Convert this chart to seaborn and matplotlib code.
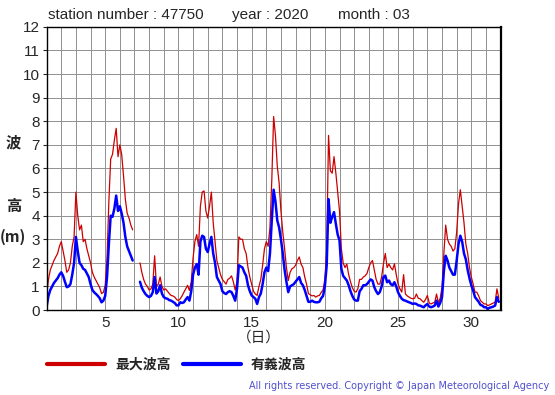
import matplotlib
matplotlib.use('Agg')
import matplotlib.pyplot as plt
from matplotlib.lines import Line2D
import seaborn as sns
import numpy as np
import pandas as pd

# 3-hourly readings, March 2020 (day 1 00h .. day 31 21h)
max_wave = [
    0.6, 1.3, 1.7, 1.9, 2.1, 2.25, 2.4, 2.7,        # 1
    2.9, 2.5, 2.1, 1.6, 1.7, 2.0, 2.7, 3.1,         # 2
    5.0, 4.0, 3.4, 3.6, 2.9, 3.0, 2.6, 2.3,         # 3
    2.0, 1.6, 1.4, 1.25, 1.1, 0.95, 0.7, 0.75,      # 4
    1.05, 2.2, 4.6, 6.4, 6.6, 7.2, 7.7, 6.5,        # 5
    7.0, 6.6, 5.7, 4.7, 4.1, 3.9, 3.6, 3.4,         # 6
    np.nan, np.nan, np.nan, 2.0, 1.6, 1.3, 1.1, 1.0,  # 7
    0.85, 0.9, 1.1, 2.3, 1.0, 1.1, 1.4, 1.0,        # 8
    0.85, 0.9, 0.8, 0.7, 0.62, 0.6, 0.55, 0.45,     # 9
    0.4, 0.48, 0.6, 0.76, 0.9, 1.05, 0.83, 1.2,     # 10
    2.2, 2.9, 3.2, 2.7, 4.4, 5.0, 5.05, 4.2,        # 11
    3.9, 4.4, 5.0, 3.7, 2.9, 2.1, 1.8, 1.5,         # 12
    1.3, 1.2, 1.1, 1.3, 1.35, 1.45, 1.2, 0.85,      # 13
    1.2, 3.1, 3.0, 3.0, 2.6, 2.4, 1.8, 1.4,         # 14
    1.1, 0.8, 0.68, 0.62, 1.0, 1.3, 1.9, 2.6,       # 15
    2.9, 2.7, 3.5, 5.5, 8.2, 7.4, 6.1, 5.4,         # 16
    4.2, 3.3, 2.6, 1.8, 1.25, 1.6, 1.75, 1.8,       # 17
    1.9, 2.1, 2.25, 1.95, 1.8, 1.4, 1.1, 0.7,       # 18
    0.65, 0.6, 0.62, 0.55, 0.6, 0.62, 0.75, 0.85,   # 19
    1.3, 2.5, 7.4, 5.9, 5.8, 6.5, 5.8, 5.0,         # 20
    4.2, 2.6, 2.0, 1.8, 1.95, 1.5, 1.2, 0.95,       # 21
    0.8, 0.76, 0.9, 1.3, 1.3, 1.4, 1.45, 1.55,      # 22
    1.8, 2.0, 2.1, 1.7, 1.3, 1.1, 1.1, 1.4,         # 23
    1.96, 2.4, 1.8, 1.95, 1.8, 1.7, 1.96, 1.5,      # 24
    1.1, 0.9, 0.76, 1.5, 0.68, 0.6, 0.55, 0.5,      # 25
    0.48, 0.5, 0.68, 0.5, 0.48, 0.4, 0.33, 0.45,    # 26
    0.62, 0.3, 0.26, 0.3, 0.33, 0.68, 0.3, 0.5,     # 27
    0.97, 2.4, 3.6, 3.0, 2.8, 2.7, 2.5, 2.6,        # 28
    3.3, 4.5, 5.1, 4.4, 3.7, 2.8, 2.4, 1.8,         # 29
    1.4, 1.1, 0.76, 0.76, 0.6, 0.4, 0.33, 0.26,     # 30
    0.26, 0.19, 0.22, 0.26, 0.3, 0.33, 0.9, 0.5,    # 31
]
sig_wave = [
    0.15, 0.6, 0.85, 1.0, 1.15, 1.25, 1.35, 1.5,
    1.6, 1.45, 1.2, 0.97, 1.0, 1.1, 1.5, 2.0,
    3.1, 2.5, 2.0, 1.9, 1.75, 1.7, 1.55, 1.4,
    1.1, 0.85, 0.75, 0.68, 0.6, 0.5, 0.33, 0.4,
    0.6, 1.4, 2.8, 4.0, 3.95, 4.3, 4.85, 4.2,
    4.4, 4.1, 3.7, 3.1, 2.7, 2.5, 2.3, 2.1,
    np.nan, np.nan, np.nan, 1.2, 0.95, 0.8, 0.68, 0.6,
    0.55, 0.6, 0.76, 1.4, 0.7, 0.8, 1.05, 0.7,
    0.55, 0.5, 0.48, 0.42, 0.4, 0.35, 0.3, 0.2,
    0.2, 0.33, 0.3, 0.33, 0.45, 0.55, 0.4, 0.8,
    1.5, 1.8, 1.95, 1.5, 2.9, 3.15, 3.1, 2.6,
    2.46, 2.8, 3.1, 2.4, 2.0, 1.4, 1.25, 1.1,
    0.8, 0.72, 0.68, 0.76, 0.8, 0.76, 0.6, 0.4,
    0.9, 1.9, 1.85, 1.8, 1.6, 1.45, 1.05, 0.8,
    0.62, 0.55, 0.48, 0.26, 0.55, 0.7, 1.1, 1.6,
    1.8, 1.65, 2.4, 3.8, 5.1, 4.6, 3.8, 3.5,
    3.0, 2.4, 1.7, 1.2, 0.76, 1.0, 1.05, 1.1,
    1.2, 1.3, 1.4, 1.15, 1.05, 0.85, 0.6, 0.35,
    0.35, 0.4, 0.35, 0.33, 0.33, 0.35, 0.5, 0.6,
    1.0, 1.9, 4.7, 3.7, 3.95, 4.15, 3.65, 3.2,
    2.95, 1.75, 1.45, 1.35, 1.25, 1.05, 0.8, 0.6,
    0.45, 0.4, 0.4, 0.8, 0.9, 1.05, 1.05, 1.1,
    1.2, 1.3, 1.25, 0.97, 0.8, 0.68, 0.76, 1.0,
    1.4, 1.46, 1.18, 1.25, 1.1, 1.05, 1.18, 1.0,
    0.75, 0.6, 0.48, 0.42, 0.4, 0.36, 0.33, 0.3,
    0.26, 0.28, 0.26, 0.2, 0.19, 0.15, 0.12, 0.2,
    0.26, 0.15, 0.12, 0.15, 0.19, 0.4, 0.15, 0.3,
    0.55, 1.65, 2.3, 2.1, 1.8, 1.65, 1.5, 1.5,
    2.1, 2.8, 3.15, 2.9, 2.4, 2.15, 1.7, 1.35,
    1.05, 0.83, 0.55, 0.45, 0.35, 0.22, 0.19, 0.12,
    0.12, 0.05, 0.1, 0.12, 0.15, 0.19, 0.55, 0.35,
]
x_ticks = [5, 10, 15, 20, 25, 30]
y_ticks = list(range(0, 13))
legend_labels = ['最大波高', '有義波高']

days = 1 + np.arange(len(max_wave)) / 8
df = pd.DataFrame({'day': days, 'max': max_wave, 'sig': sig_wave})
# separate segments so the missing-data gap is not bridged
df['seg'] = df['max'].isna().cumsum()
df = df.dropna()

sns.set_style('white')
plt.rcParams['font.family'] = ['Liberation Sans', 'DejaVu Sans']
jp = ['Noto Sans CJK JP', 'DejaVu Sans']

fig = plt.figure(figsize=(5.55, 3.95), dpi=100)
ax = fig.add_axes([0.084, 0.215, 0.818, 0.717])

red = '#cc0000'
blue = '#0000ff'
sns.lineplot(data=df, x='day', y='max', units='seg', estimator=None,
             color=red, lw=0.9, ax=ax)
sns.lineplot(data=df, x='day', y='sig', units='seg', estimator=None,
             color=blue, lw=1.8, ax=ax)

ax.set_xlim(1, 32)
ax.set_ylim(0, 12)
ax.set_xticks(np.arange(1, 33), minor=True)
ax.set_xticks(x_ticks)
ax.set_yticks(y_ticks)
ax.grid(True, which='both', axis='x', color='#909090', lw=0.7)
ax.grid(True, which='major', axis='y', color='#909090', lw=0.7)
ax.tick_params(axis='x', which='both', length=0, labelsize=11, pad=4)
ax.tick_params(axis='y', length=3, labelsize=11, pad=2, left=True)
ax.set_xlabel('')
ax.set_ylabel('')
for side in ['top', 'left', 'bottom']:
    ax.spines[side].set_color('black')
    ax.spines[side].set_linewidth(1.0)
ax.spines['right'].set_color('black')
ax.spines['right'].set_linewidth(1.6)

fig.text(48 / 555, 0.962, 'station number : 47750', fontsize=11, va='center')
fig.text(232 / 555, 0.962, 'year : 2020', fontsize=11, va='center')
fig.text(338 / 555, 0.962, 'month : 03', fontsize=11, va='center')

fig.text(0.024, 1 - 142 / 395, '波', family=jp, fontweight='bold', fontsize=11,
         ha='center', va='center')
fig.text(0.024, 1 - 206 / 395, '高', family=jp, fontweight='bold', fontsize=11,
         ha='center', va='center')
fig.text(0.024, 1 - 237 / 395, '(m)', family=jp, fontweight='bold', fontsize=11,
         ha='center', va='center')
fig.text(259 / 555, 1 - 338 / 395, '（日）', family=jp, fontsize=10.5,
         ha='center', va='center')

handles = [Line2D([], [], color=red, lw=3), Line2D([], [], color=blue, lw=3)]
leg = fig.legend(handles, legend_labels, loc='center left',
                 bbox_to_anchor=(0.062, 1 - 365 / 395), ncol=2, frameon=False,
                 handlelength=4.2, handletextpad=0.7, columnspacing=0.9,
                 prop={'family': jp, 'weight': 'bold', 'size': 10})

fig.text(549 / 555, 1 - 386 / 395,
         'All rights reserved. Copyright © Japan Meteorological Agency',
         family='DejaVu Sans', color='#5050d0', fontsize=7, ha='right',
         va='center')

fig.savefig('out.png', dpi=100)
